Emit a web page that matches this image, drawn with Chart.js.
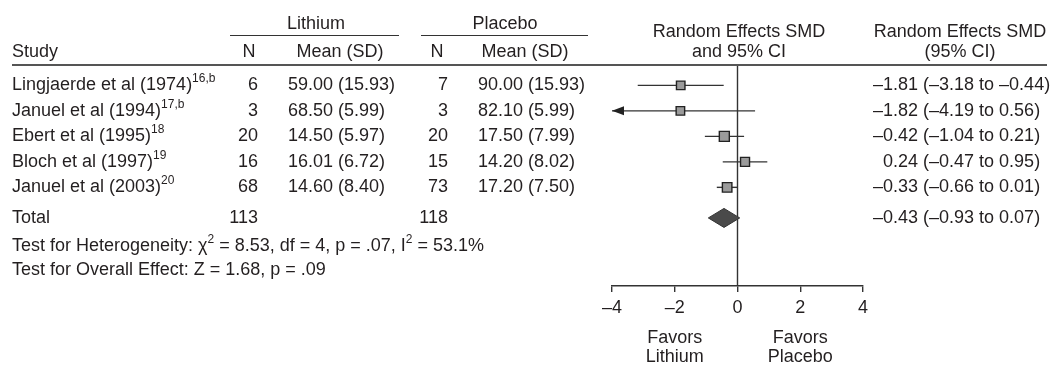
<!DOCTYPE html>
<html>
<head>
<meta charset="utf-8">
<script src="https://cdn.jsdelivr.net/npm/chart.js@4"></script>
<style>
  html, body { margin: 0; padding: 0; background: #fff; }
  #wrap { width: 1055px; height: 365px; }
</style>
</head>
<body>
<div id="wrap"><canvas id="forestChart" width="1055" height="365"></canvas></div>
<script>
// data
const studies = ['Lingjaerde et al (1974)', 'Januel et al (1994)', 'Ebert et al (1995)', 'Bloch et al (1997)', 'Januel et al (2003)'];
const refs = ['16,b', '17,b', '18', '19', '20'];
const lithiumN = [6, 3, 20, 16, 68];
const lithiumMean = [59.00, 68.50, 14.50, 16.01, 14.60];
const lithiumSD = [15.93, 5.99, 5.97, 6.72, 8.40];
const placeboN = [7, 3, 20, 15, 73];
const placeboMean = [90.00, 82.10, 17.50, 14.20, 17.20];
const placeboSD = [15.93, 5.99, 7.99, 8.02, 7.50];
const smd = [-1.81, -1.82, -0.42, 0.24, -0.33];
const ciLow = [-3.18, -4.19, -1.04, -0.47, -0.66];
const ciHigh = [-0.44, 0.56, 0.21, 0.95, 0.01];
const totalN = [113, 118];
const totalSmd = -0.43, totalLow = -0.93, totalHigh = 0.07;
const xTicks = [-4, -2, 0, 2, 4];
const heteroText = [['Test for Heterogeneity: χ'], ['2', 1], [' = 8.53, df = 4, p = .07, I'], ['2', 1], [' = 53.1%']];
const overallText = [['Test for Overall Effect: Z = 1.68, p = .09']];

// box side in px per study (weight markers)
const boxSide = [8.5, 8.5, 10, 9, 9.5];

const FONT = '"Liberation Sans", Arial, Helvetica, sans-serif';
const SIZE = 18;
const INK = '#231f20';
const LINE = '#333';
const totalRow = studies.length + 0.2;

const fmt = (v) => (v < 0 ? '–' : '') + Math.abs(v).toFixed(2);

function drawParts(ctx, parts, x, y, align) {
    const fonts = parts.map(p => p[1] ? `12px ${FONT}` : `${SIZE}px ${FONT}`);
    let w = 0;
    parts.forEach((p, i) => { ctx.font = fonts[i]; w += ctx.measureText(p[0]).width; });
    let cx = align === 'right' ? x - w : align === 'center' ? x - w / 2 : x;
    ctx.textAlign = 'left';
    ctx.textBaseline = 'middle';
    parts.forEach((p, i) => {
        ctx.font = fonts[i];
        ctx.fillText(p[0], cx, p[1] ? y - 6.5 : y);
        cx += ctx.measureText(p[0]).width;
    });
}

const tablePlugin = {
    id: 'tablePlugin',
    afterDraw(chart) {
        const ctx = chart.ctx;
        const xs = chart.scales.x, ys = chart.scales.y;
        ctx.save();
        ctx.fillStyle = INK;

        // group headers
        drawParts(ctx, [['Lithium']], 316, 24, 'center');
        drawParts(ctx, [['Placebo']], 505, 24, 'center');
        ctx.strokeStyle = LINE;
        ctx.lineWidth = 1;
        ctx.beginPath();
        ctx.moveTo(230, 35.5); ctx.lineTo(399, 35.5);
        ctx.moveTo(421, 35.5); ctx.lineTo(588, 35.5);
        ctx.stroke();

        drawParts(ctx, [['Study']], 12, 52, 'left');
        drawParts(ctx, [['N']], 249, 52, 'center');
        drawParts(ctx, [['Mean (SD)']], 340, 52, 'center');
        drawParts(ctx, [['N']], 437, 52, 'center');
        drawParts(ctx, [['Mean (SD)']], 525, 52, 'center');
        drawParts(ctx, [['Random Effects SMD']], 739, 32, 'center');
        drawParts(ctx, [['and 95% CI']], 739, 52, 'center');
        drawParts(ctx, [['Random Effects SMD']], 960, 32, 'center');
        drawParts(ctx, [['(95% CI)']], 960, 52, 'center');

        ctx.strokeStyle = '#555';
        ctx.lineWidth = 2;
        ctx.beginPath();
        ctx.moveTo(12, 65); ctx.lineTo(1047, 65);
        ctx.stroke();

        ctx.font = `${SIZE}px ${FONT}`;
        const minusW = ctx.measureText('–').width;
        studies.forEach((s, i) => {
            const y = ys.getPixelForValue(i);
            drawParts(ctx, [[s], [refs[i], 1]], 12, y, 'left');
            drawParts(ctx, [[String(lithiumN[i])]], 258, y, 'right');
            drawParts(ctx, [[`${lithiumMean[i].toFixed(2)} (${lithiumSD[i].toFixed(2)})`]], 288, y, 'left');
            drawParts(ctx, [[String(placeboN[i])]], 448, y, 'right');
            drawParts(ctx, [[`${placeboMean[i].toFixed(2)} (${placeboSD[i].toFixed(2)})`]], 478, y, 'left');
            drawParts(ctx, [[`${fmt(smd[i])} (${fmt(ciLow[i])} to ${fmt(ciHigh[i])})`]], 873 + (smd[i] < 0 ? 0 : minusW), y, 'left');
        });

        const ty = ys.getPixelForValue(totalRow);
        drawParts(ctx, [['Total']], 12, ty, 'left');
        drawParts(ctx, [[String(totalN[0])]], 258, ty, 'right');
        drawParts(ctx, [[String(totalN[1])]], 448, ty, 'right');
        drawParts(ctx, [[`${fmt(totalSmd)} (${fmt(totalLow)} to ${fmt(totalHigh)})`]], 873, ty, 'left');

        drawParts(ctx, heteroText, 12, 246, 'left');
        drawParts(ctx, overallText, 12, 270, 'left');

        // diamond for the pooled estimate
        const dl = xs.getPixelForValue(totalLow), dm = xs.getPixelForValue(totalSmd), dr = xs.getPixelForValue(totalHigh);
        ctx.fillStyle = '#4a4a4a';
        ctx.strokeStyle = '#333';
        ctx.lineWidth = 1;
        ctx.beginPath();
        ctx.moveTo(dl, ty); ctx.lineTo(dm, ty - 9.5); ctx.lineTo(dr, ty); ctx.lineTo(dm, ty + 9.5);
        ctx.closePath();
        ctx.fill(); ctx.stroke();

        // arrow when the CI runs past the axis
        ctx.fillStyle = '#222';
        ciLow.forEach((lo, i) => {
            if (lo < xs.min) {
                const y = ys.getPixelForValue(i);
                ctx.beginPath();
                ctx.moveTo(xs.left, y); ctx.lineTo(xs.left + 12, y - 4.5); ctx.lineTo(xs.left + 12, y + 4.5);
                ctx.closePath();
                ctx.fill();
            }
        });

        // favors labels
        ctx.fillStyle = INK;
        drawParts(ctx, [['Favors']], xs.getPixelForValue(-2), 338, 'center');
        drawParts(ctx, [['Lithium']], xs.getPixelForValue(-2), 357, 'center');
        drawParts(ctx, [['Favors']], xs.getPixelForValue(2), 338, 'center');
        drawParts(ctx, [['Placebo']], xs.getPixelForValue(2), 357, 'center');
        ctx.restore();
    }
};

const datasets = [
    {
        label: 'SMD',
        data: smd.map((v, i) => ({ x: v, y: i })),
        pointStyle: 'rect',
        pointRadius: boxSide.map(s => s / 2 / Math.SQRT1_2),
        backgroundColor: '#9b9b9b',
        borderColor: '#222',
        borderWidth: 1.4,
        showLine: false
    },
    ...studies.map((s, i) => ({
        label: s,
        data: [{ x: ciLow[i], y: i }, { x: ciHigh[i], y: i }],
        showLine: true,
        borderColor: LINE,
        borderWidth: 1.4,
        pointRadius: 0,
        clip: 0
    })),
    {
        label: 'zero',
        data: [{ x: 0, y: -0.76 }, { x: 0, y: 7.87 }],
        showLine: true,
        borderColor: LINE,
        borderWidth: 1.4,
        pointRadius: 0
    }
];

new Chart(document.getElementById('forestChart'), {
    type: 'scatter',
    data: { datasets },
    options: {
        responsive: false,
        animation: false,
        devicePixelRatio: 1,
        layout: { padding: { left: 612, right: 192, top: 66, bottom: 0 } },
        plugins: { legend: { display: false }, tooltip: { enabled: false } },
        scales: {
            x: {
                type: 'linear',
                min: -4,
                max: 4,
                afterBuildTicks: (scale) => { scale.ticks = xTicks.map(v => ({ value: v })); },
                afterFit: (scale) => { scale.height = 79; },
                grid: { display: true, drawOnChartArea: false, drawTicks: true, tickLength: 6, color: LINE, lineWidth: 1.4 },
                border: { display: true, color: LINE, width: 1.4 },
                ticks: {
                    padding: 5,
                    color: INK,
                    font: { family: FONT, size: SIZE },
                    callback: (v) => (v < 0 ? '–' + Math.abs(v) : String(v))
                }
            },
            y: {
                type: 'linear',
                display: false,
                reverse: true,
                min: -0.76,
                max: 7.87
            }
        }
    },
    plugins: [tablePlugin]
});
</script>
</body>
</html>
